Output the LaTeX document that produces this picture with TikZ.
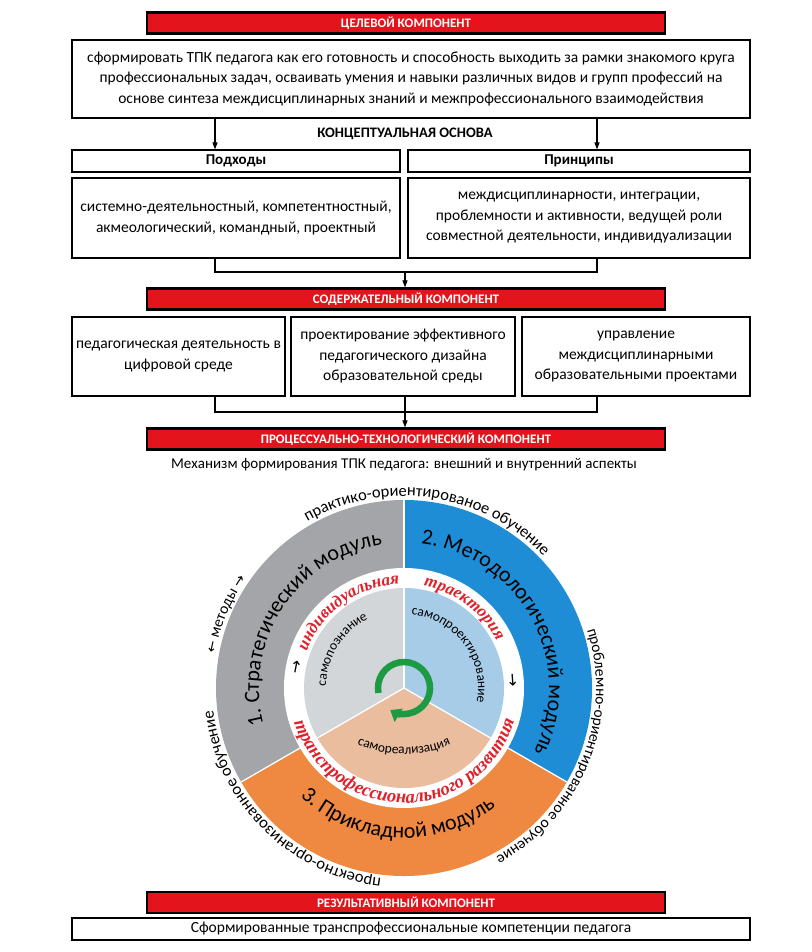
\documentclass[tikz,border=0pt]{standalone}
\usepackage{fontspec}
\setmainfont{Carlito}
\newfontfamily\symfont{DejaVu Sans}
\newfontfamily\rfont{Liberation Serif}
\usetikzlibrary{arrows.meta,decorations.text}
\definecolor{hdrred}{HTML}{E3141B}
\definecolor{bandgray}{HTML}{A3A5A8}
\definecolor{bandblue}{HTML}{1F8DD6}
\definecolor{bandorange}{HTML}{EF8840}
\definecolor{inngray}{HTML}{D3D6D8}
\definecolor{innblue}{HTML}{A6CCE8}
\definecolor{inntan}{HTML}{E9BD9E}
\definecolor{ringred}{HTML}{E0202A}
\definecolor{arrgreen}{HTML}{1E9A45}
\newcommand\myArrF{\symfont\fontsize{14}{14}\selectfont}
\newcommand\myOutF{\rmfamily\fontsize{15.5}{15.5}\selectfont}
\newcommand\myOutG{\rmfamily\fontsize{16.5}{16.5}\selectfont}
\newcommand\myModF{\rmfamily\fontsize{22}{22}\selectfont}
\newcommand\myInF{\rmfamily\fontsize{13.5}{13.5}\selectfont}
\newcommand\myRedF{\rfont\bfseries\itshape\fontsize{17}{17}\selectfont\color{ringred}}
\newcommand\myRedG{\rfont\bfseries\itshape\fontsize{18.5}{18.5}\selectfont\color{ringred}}
\tikzset{
  hdr/.style={draw=black, line width=2.2pt, fill=hdrred, minimum width=518, minimum height=21,
    inner sep=0pt, text=white, font=\bfseries\fontsize{13}{14}\selectfont},
  box/.style={draw=black, line width=1.1pt, inner sep=0pt, align=center,
    font=\fontsize{15.5}{20.5}\selectfont},
  boldbox/.style={box, font=\bfseries\fontsize{15}{16}\selectfont},
  arr/.style={line width=1.1pt, -{Triangle[length=7pt,width=5pt]}},
  ln/.style={line width=1.1pt},
  sep/.style={white, line width=1.3pt},
}
\begin{document}
\begin{tikzpicture}[x=1pt,y=1pt]
\useasboundingbox (0,0) rectangle (811,952);
\fill[white] (0,0) rectangle (811,952);

% ---- goal component
\node[hdr] (h1) at (406,929) {ЦЕЛЕВОЙ КОМПОНЕНТ};
\node[box, minimum width=678, minimum height=78] (goal) at (411,873)
  {сформировать ТПК педагога как его готовность и способность выходить за рамки знакомого круга\\
   профессиональных задач, осваивать умения и навыки различных видов и групп профессий на\\
   основе синтеза междисциплинарных знаний и межпрофессионального взаимодействия};
\node[font=\bfseries\fontsize{14.5}{16}\selectfont] (conc) at (405,818) {КОНЦЕПТУАЛЬНАЯ ОСНОВА};
\node[boldbox, minimum width=328, minimum height=22] (appr) at (236,791) {Подходы};
\node[boldbox, minimum width=342, minimum height=22] (prin) at (579,791) {Принципы};
\node[box, minimum width=328, minimum height=80] (apprT) at (236,734)
  {системно-деятельностный, компетентностный,\\ акмеологический, командный, проектный};
\node[box, minimum width=342, minimum height=80] (prinT) at (579,734)
  {междисциплинарности, интеграции,\\ проблемности и активности, ведущей роли\\ совместной деятельности, индивидуализации};
\coordinate (xl) at (215,0);
\coordinate (xr) at (597,0);
\coordinate (j1) at (405,680);
\draw[arr] (goal.south -| xl) -- (appr.north -| xl);
\draw[arr] (goal.south -| xr) -- (prin.north -| xr);
\draw[ln] (apprT.south -| xl) |- (j1) -| (prinT.south -| xr);

% ---- content component
\node[hdr] (h2) at (406,653) {СОДЕРЖАТЕЛЬНЫЙ КОМПОНЕНТ};
\draw[arr] (j1) -- (h2.north -| j1);
\node[box, minimum width=213, minimum height=79] (c1) at (178.5,595.5)
  {педагогическая деятельность в\\ цифровой среде};
\node[box, minimum width=224, minimum height=79] (c2) at (403,595.5)
  {проектирование эффективного\\ педагогического дизайна\\ образовательной среды};
\node[box, minimum width=228, minimum height=79] (c3) at (636,595.5)
  {управление\\ междисциплинарными\\ образовательными проектами};
\coordinate (j2) at (405,540);
\draw[ln] (c1.south -| xl) |- (j2) -| (c3.south -| xr);
\draw[ln] (c2.south -| j2) -- (j2);

% ---- process component
\node[hdr] (h3) at (406,513) {ПРОЦЕССУАЛЬНО-ТЕХНОЛОГИЧЕСКИЙ КОМПОНЕНТ};
\draw[arr] (j2) -- (h3.north -| j2);
\node[font=\fontsize{15}{16}\selectfont] (mech) at (404,487)
  {Механизм формирования ТПК педагога: внешний и внутренний аспекты};

\begin{scope}[shift={(404,264)}]
  \fill[bandgray] (0,0) -- (90:188) arc[start angle=90,end angle=210,radius=188] -- cycle;
  \fill[bandblue] (0,0) -- (-30:188) arc[start angle=-30,end angle=90,radius=188] -- cycle;
  \fill[bandorange] (0,0) -- (210:188) arc[start angle=210,end angle=330,radius=188] -- cycle;
  \foreach \a in {90,210,330} \draw[sep] (0,0) -- (\a:188);
  \fill[white] (0,0) circle[radius=120];
  \fill[inngray] (0,0) -- (90:100) arc[start angle=90,end angle=210,radius=100] -- cycle;
  \fill[innblue] (0,0) -- (-30:100) arc[start angle=-30,end angle=90,radius=100] -- cycle;
  \fill[inntan] (0,0) -- (210:100) arc[start angle=210,end angle=330,radius=100] -- cycle;
  \foreach \a in {90,210,330} \draw[sep] (0,0) -- (\a:100);

  % outer texts
  \path[decorate, decoration={text along path, text align=center,
     text={|\myOutG|практико-ориентированое обучение}}]
     (141.75:192) arc[start angle=141.75,end angle=21.75,radius=192];
  \path[decorate, decoration={text along path, text align=center,
     text={|\myOutF|проблемно-ориентированное обучение}}]
     (38:192) arc[start angle=38,end angle=-82,radius=192];
  \path[decorate, decoration={text along path, text align=center,
     text={|\myOutG|проектно-организованное обучение}}]
     (285:192) arc[start angle=285,end angle=165,radius=192];
  \path[decorate, decoration={text along path, text align=center,
     text={|\myArrF|←|\myOutF| методы |\myArrF|→}}]
     (187.5:192) arc[start angle=187.5,end angle=127.5,radius=192];

  % module texts
  \path[decorate, decoration={text along path, text align=center,
     text={|\myModF|1. Стратегический модуль}}]
     (206.5:145) arc[start angle=206.5,end angle=86.5,radius=145];
  \path[decorate, decoration={text along path, text align=center,
     text={|\myModF|2. Методологический модуль}}]
     (93.5:145) arc[start angle=93.5,end angle=-36.5,radius=145];
  \path[decorate, decoration={text along path, text align=center,
     text={|\myModF|3. Прикладной модуль}}]
     (207:150) arc[start angle=207,end angle=327,radius=150];

  % red ring texts
  \path[decorate, decoration={text along path, text align=center,
     text={|\myRedF|индивидуальная}}]
     (176:104) arc[start angle=176,end angle=76,radius=104];
  \path[decorate, decoration={text along path, text align=center,
     text={|\myRedF|траектория}}]
     (103:104) arc[start angle=103,end angle=3,radius=104];
  \path[decorate, decoration={text along path, text align=center,
     text={|\myRedG|транспрофессионального развития}}]
     (180.5:115) arc[start angle=180.5,end angle=360.5,radius=115];

  % inner texts
  \path[decorate, decoration={text along path, text align=center,
     text={|\myInF|самопознание}}]
     (198:78) arc[start angle=198,end angle=98,radius=78];
  \path[decorate, decoration={text along path, text align=center,
     text={|\myInF|самопроектирование}}]
     (96.5:74) arc[start angle=96.5,end angle=-23.5,radius=74];
  \path[decorate, decoration={text along path, text align=center,
     text={|\myInF|самореализация}}]
     (0,54) ++(235:120) arc[start angle=235,end angle=305,radius=120];

  \node[font=\symfont\fontsize{16}{16}\selectfont, rotate=-11] (upA) at (169:110) {↑};
  \node[font=\symfont\fontsize{16}{16}\selectfont, rotate=4] (downA) at (4:109) {↓};

  \draw[arrgreen, line width=6.5pt, -{Triangle[length=10pt,width=15pt]}]
     (191:26) arc[start angle=191,end angle=-122,radius=26];
\end{scope}

% ---- result component
\node[hdr] (h4) at (406,49.5) {РЕЗУЛЬТАТИВНЫЙ КОМПОНЕНТ};
\node[box, minimum width=678, minimum height=22] (res) at (411,23)
  {Сформированные транспрофессиональные компетенции педагога};
\end{tikzpicture}
\end{document}
